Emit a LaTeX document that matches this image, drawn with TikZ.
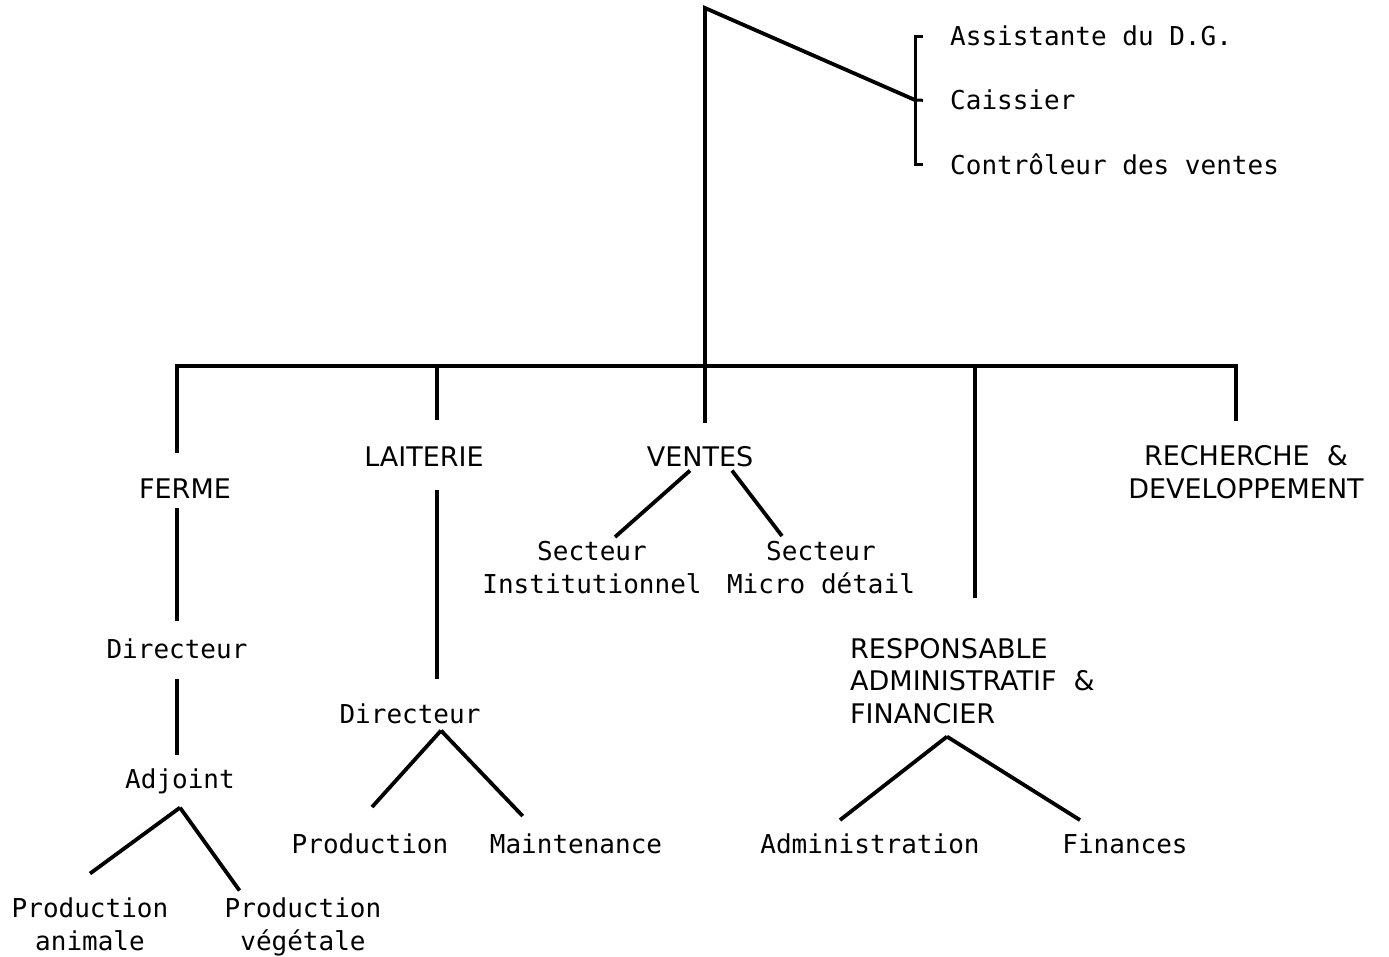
\documentclass[tikz,border=0pt]{standalone}
\usepackage{fontspec}
\newfontfamily\chartmono{DejaVu Sans Mono}
\newfontfamily\chartsans{DejaVu Sans}
\tikzset{
  lbl/.style={inner sep=0pt, anchor=base, align=center, font=\chartmono\fontsize{26}{32.5}\selectfont},
  head/.style={inner sep=0pt, anchor=base, align=center, font=\chartsans\fontsize{27}{32.5}\selectfont},
  link/.style={line width=3.8pt},
}
\begin{document}
\begin{tikzpicture}[x=1pt,y=-1pt]
\useasboundingbox (0,0) rectangle (1389,957);

\coordinate (dg) at (705,8);
\coordinate (brk) at (915,100);
\node[lbl,anchor=base west] (assist) at (950,46) {Assistante du D.G.};
\node[lbl,anchor=base west] (caiss) at (950,110) {Caissier};
\node[lbl,anchor=base west] (ctrl) at (950,175) {Contrôleur des ventes};
\draw[link,line width=3pt] ([xshift=-27pt]assist.west) -| (brk) |- ([xshift=-27pt]ctrl.west);
\draw[link,line width=3pt] (brk) -- ([xshift=-27pt]caiss.west);

\coordinate (jF) at (177,366);
\coordinate (jL) at (437,366);
\coordinate (jV) at (705,366);
\coordinate (jA) at (975,366);
\coordinate (jD) at (1236,366);

\node[head] (ferme) at (185,498) {FERME};
\node[head] (lait) at (424,466) {LAITERIE};
\node[head] (ventes) at (700,466) {VENTES};
\node[head,anchor=base west,align=left] (resp) at (850,723) {RESPONSABLE\\ADMINISTRATIF \ \&\\FINANCIER};
\node[head] (rd) at (1246,498) {RECHERCHE \ \&\\DEVELOPPEMENT};

\draw[link,shorten >=23pt] (brk) -- (dg) -- (jV |- ventes.north);
\draw[link,line width=3.3pt,shorten <=25pt,shorten >=24pt] (jF |- ferme.north) -- (jF) -- (jD) -- (jD |- rd.north);
\draw[link,shorten >=26pt] (jL) -- (jL |- lait.north);
\draw[link,shorten >=40pt] (jA) -- (jA |- resp.north);

\node[lbl] (fdir) at (177,658) {Directeur};
\node[lbl] (fadj) at (180,788) {Adjoint};
\node[lbl] (fanim) at (90,950) {Production\\animale};
\node[lbl] (fveg) at (303,950) {Production\\végétale};
\draw[link,shorten <=10pt,shorten >=17pt] (fdir.north |- ferme.south) -- (fdir.north);
\draw[link,shorten <=20pt,shorten >=13pt] (fdir.south) -- (fdir.south |- fadj.north);
\draw[link] ([yshift=-14pt]fadj.south) -- ([yshift=24pt]fanim.north);
\draw[link] ([yshift=-14pt]fadj.south) -- ([xshift=15pt,yshift=7pt]fveg.north west);

\node[lbl] (ldir) at (410,723) {Directeur};
\node[lbl] (lprod) at (370,853) {Production};
\node[lbl] (lmaint) at (576,853) {Maintenance};
\draw[link,shorten <=24pt,shorten >=24pt] (jL |- lait.south) -- (jL |- ldir.north);
\draw[link] ([xshift=31pt,yshift=-7pt]ldir.south) -- ([xshift=2pt,yshift=26pt]lprod.north);
\draw[link] ([xshift=31pt,yshift=-7pt]ldir.south) -- ([xshift=33pt,yshift=17pt]lmaint.north west);

\node[lbl] (secI) at (592,593) {Secteur\\Institutionnel};
\node[lbl] (secM) at (821,593) {Secteur\\Micro détail};
\draw[link] ([xshift=-10pt,yshift=-4pt]ventes.south) -- ([xshift=23pt,yshift=4pt]secI.north);
\draw[link] ([xshift=32pt,yshift=-4pt]ventes.south) -- ([xshift=-39pt,yshift=5pt]secM.north);

\node[lbl] (admin) at (870,853) {Administration};
\node[lbl] (fin) at (1125,853) {Finances};
\draw[link] ([xshift=97pt,yshift=-13pt]resp.south west) -- ([xshift=-30pt,yshift=13pt]admin.north);
\draw[link] ([xshift=97pt,yshift=-13pt]resp.south west) -- ([xshift=-45pt,yshift=13pt]fin.north);
\end{tikzpicture}
\end{document}
